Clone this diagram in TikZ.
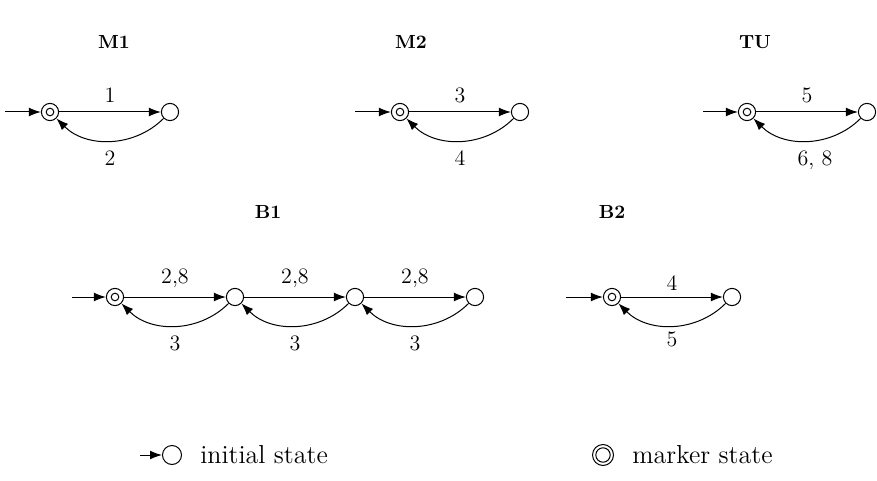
\documentclass[tikz,border=0pt]{standalone}
\usetikzlibrary{arrows.meta}
\begin{document}
\begin{tikzpicture}[x=0.5pt,y=-0.5pt,
  state/.style={circle,draw,minimum size=8.6pt,inner sep=0pt,line width=0.5pt},
  tr/.style={-{Latex[length=6pt,width=4.4pt]},line width=0.5pt},
  lab/.style={font=\fontsize{11}{13}\selectfont,inner sep=2pt},
  up/.style={above=2.5pt},
  dn/.style={below=3pt},
  ttl/.style={font=\fontsize{9.5}{11}\selectfont\bfseries},
  leg/.style={font=\fontsize{13}{15}\selectfont,anchor=west,inner sep=0pt}]
\useasboundingbox (0,0) rectangle (877,481);

% titles
\node[ttl] (tM1) at (114,42) {M1};
\node[ttl] (tM2) at (411,42) {M2};
\node[ttl] (tTU) at (755,42) {TU};
\node[ttl] (tB1) at (268,212) {B1};
\node[ttl] (tB2) at (612,212) {B2};

% M1
\node[state] (m1a) at (50,112) {};
\draw[line width=0.5pt] (m1a.center) circle (1.9pt);
\node[state] (m1b) at (170,112) {};
\coordinate (m1i) at (5,112);
\draw[tr] (m1i) -- (m1a);
\draw[tr] (m1a) -- node[lab,up] {1} (m1b);
\draw[tr] (m1b) to[bend left=45] node[lab,dn] {2} (m1a);

% M2
\node[state] (m2a) at (400,112) {};
\draw[line width=0.5pt] (m2a.center) circle (1.9pt);
\node[state] (m2b) at (520,112) {};
\coordinate (m2i) at (355,112);
\draw[tr] (m2i) -- (m2a);
\draw[tr] (m2a) -- node[lab,up] {3} (m2b);
\draw[tr] (m2b) to[bend left=45] node[lab,dn] {4} (m2a);

% TU
\node[state] (tua) at (747,112) {};
\draw[line width=0.5pt] (tua.center) circle (1.9pt);
\node[state] (tub) at (867,112) {};
\coordinate (tui) at (703,112);
\draw[tr] (tui) -- (tua);
\draw[tr] (tua) -- node[lab,up] {5} (tub);
\draw[tr] (tub) to[bend left=45] node[lab,dn,xshift=4pt] {6, 8} (tua);

% B1
\node[state] (b1a) at (115,297) {};
\draw[line width=0.5pt] (b1a.center) circle (1.9pt);
\node[state] (b1b) at (235,297) {};
\node[state] (b1c) at (355,297) {};
\node[state] (b1d) at (475,297) {};
\coordinate (b1i) at (72,297);
\draw[tr] (b1i) -- (b1a);
\draw[tr] (b1a) -- node[lab,up] {2,8} (b1b);
\draw[tr] (b1b) -- node[lab,up] {2,8} (b1c);
\draw[tr] (b1c) -- node[lab,up] {2,8} (b1d);
\draw[tr] (b1b) to[bend left=45] node[lab,dn] {3} (b1a);
\draw[tr] (b1c) to[bend left=45] node[lab,dn] {3} (b1b);
\draw[tr] (b1d) to[bend left=45] node[lab,dn] {3} (b1c);

% B2
\node[state] (b2a) at (612,297) {};
\draw[line width=0.5pt] (b2a.center) circle (1.9pt);
\node[state] (b2b) at (732,297) {};
\coordinate (b2i) at (566,297);
\draw[tr] (b2i) -- (b2a);
\draw[tr] (b2a) -- node[lab,above=1pt] {4} (b2b);
\draw[tr] (b2b) to[bend left=45] node[lab,below=1pt] {5} (b2a);

% legend
\node[state,minimum size=9.5pt] (li) at (172,455) {};
\coordinate (lis) at (140,455);
\draw[tr] (lis) -- (li);
\node[leg] (lit) at (200,455) {initial state};
\node[state,minimum size=10.5pt] (lm) at (603,455) {};
\draw[line width=0.5pt] (lm.center) circle (3.6pt);
\node[leg] (lmt) at (632,455) {marker state};
\end{tikzpicture}
\end{document}
